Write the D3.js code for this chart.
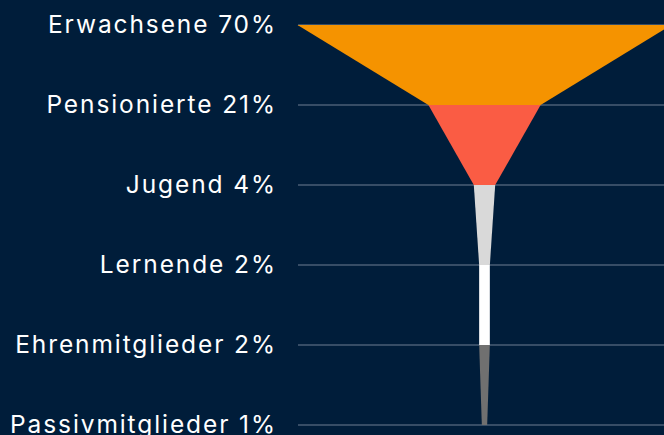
<!DOCTYPE html>
<html><head><meta charset="utf-8">
<script src="https://cdn.jsdelivr.net/npm/d3@7"></script>
<style>html,body{margin:0;padding:0;background:#001d3a;overflow:hidden}</style>
</head><body>
<svg id="c" width="664" height="435"></svg>
<script>
const categories = ["Erwachsene", "Pensionierte", "Jugend", "Lernende", "Ehrenmitglieder", "Passivmitglieder"];
const values = [70, 21, 4, 2, 2, 1];
const colors = ["#f59300", "#fa5c44", "#d9d9d9", "#ffffff", "#707070", "#707070"];

const svg = d3.select("#c");
const W = 664, H = 435;
svg.append("rect").attr("width", W).attr("height", H).attr("fill", "#001d3a");

const y = d3.scalePoint().domain(categories).range([25, 425]);
const cx = 484.5;
const w = d3.scaleLinear().domain([0, 70]).range([0, 374]);

svg.append("g").selectAll("line").data(categories).join("line")
  .attr("x1", 298).attr("x2", W)
  .attr("y1", d => y(d)).attr("y2", d => y(d))
  .attr("stroke", "#4a5e76").attr("stroke-width", 1.5);

const segs = d3.range(categories.length - 1).map(i => ({
  c: colors[i],
  y0: y(categories[i]), y1: y(categories[i + 1]),
  w0: w(values[i]), w1: w(values[i + 1])
}));
svg.append("g").selectAll("path").data(segs).join("path")
  .attr("d", s => `M${cx - s.w0 / 2},${s.y0}L${cx + s.w0 / 2},${s.y0}L${cx + s.w1 / 2},${s.y1}L${cx - s.w1 / 2},${s.y1}Z`)
  .attr("fill", s => s.c);

const labels = svg.append("g").selectAll("text").data(categories).join("text")
  .attr("x", 275).attr("y", d => y(d) + 7.5)
  .attr("text-anchor", "end")
  .attr("fill", "#ffffff")
  .style("font-family", "Inter, sans-serif").style("font-size", "24.5px")
  .text((d, i) => `${d} ${values[i]}%`);

const n0 = labels.node();
const base = n0.getComputedTextLength();
const str = n0.textContent;
const ls = Math.max(0, (227 - base) / (str.length - 1));
labels.style("letter-spacing", ls + "px").attr("dx", ls);
</script>
</body></html>
